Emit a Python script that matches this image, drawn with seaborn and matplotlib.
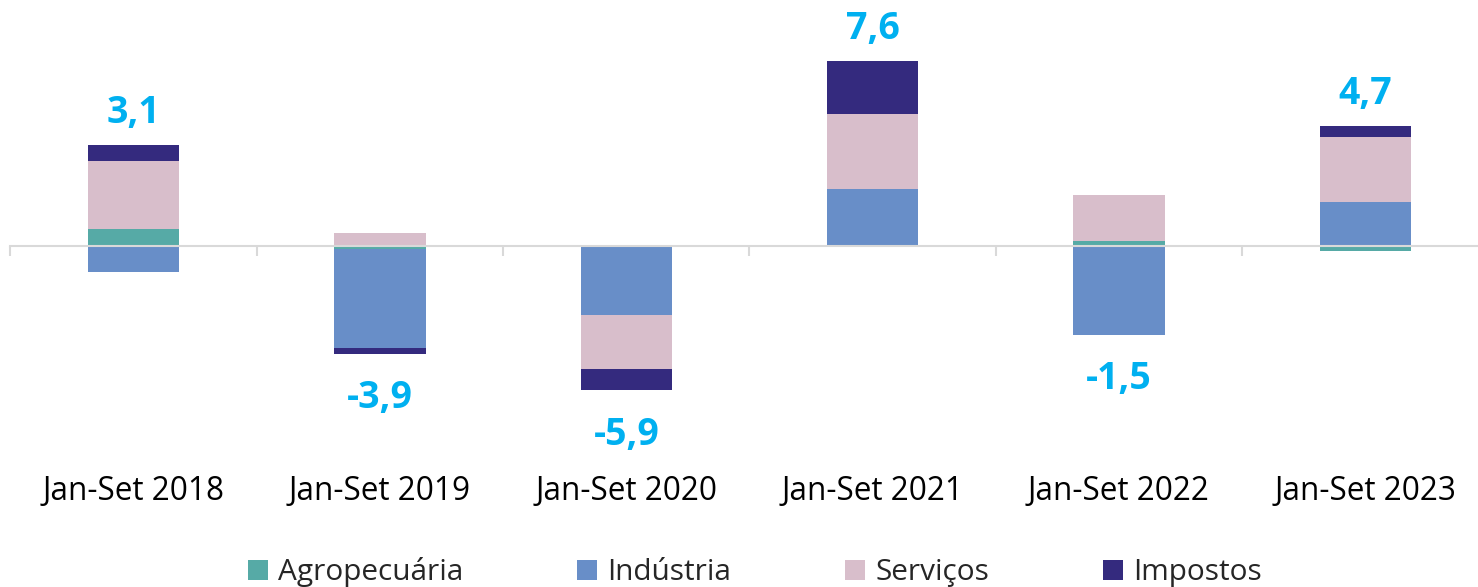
import matplotlib.pyplot as plt
import matplotlib.ticker as mticker
from matplotlib.patches import Patch
import seaborn as sns
import pandas as pd
import numpy as np


# data (contribution to growth, p.p.)
#==============================================================================
periods = ['Jan-Set 2018', 'Jan-Set 2019', 'Jan-Set 2020',
           'Jan-Set 2021', 'Jan-Set 2022', 'Jan-Set 2023']
series_names = ['Agropecuária', 'Indústria', 'Serviços', 'Impostos']
agro = [0.68, -0.12, 0.03, 0.00, 0.19, -0.22]
industria = [-1.07, -4.09, -2.88, 2.33, -3.68, 1.80]
servicos = [2.81, 0.54, -2.20, 3.10, 1.89, 2.71]
impostos = [0.66, -0.25, -0.89, 2.19, 0.03, 0.45]
totals = [3.1, -3.9, -5.9, 7.6, -1.5, 4.7]

colors = ['#56AAA6', '#688EC8', '#D8BECB', '#342A7E']
label_color = '#00B0F0'

sns.set_style('white')
plt.rcParams['font.family'] = ['Open Sans', 'DejaVu Sans']

df = pd.DataFrame({'periodo': periods, 'Agropecuária': agro,
                   'Indústria': industria, 'Serviços': servicos,
                   'Impostos': impostos})

# positive and negative parts stack separately (Excel style)
vals = df[series_names]
pos_cum = vals.clip(lower=0).cumsum(axis=1)
neg_cum = vals.clip(upper=0).cumsum(axis=1)

fig = plt.figure(figsize=(14.78, 5.87), dpi=100)
ax = fig.add_axes([10.5 / 1478, 0, 1, 1])

# draw cumulative bars from the outermost series inwards so each layer
# covers the one below it
for k in reversed(range(len(series_names))):
    name = series_names[k]
    for cum in (pos_cum, neg_cum):
        sns.barplot(x=df['periodo'], y=cum[name], color=colors[k],
                    width=0.37, errorbar=None, linewidth=0,
                    saturation=1, ax=ax)

ax.set_xlim(-0.5, 5.5)
ax.set_ylim(-(587 - 245.7) / 24.2, 245.7 / 24.2)
ax.set_xlabel('')
ax.set_ylabel('')
ax.set_yticks([])

# zero line with category separators
for side in ['top', 'left', 'right']:
    ax.spines[side].set_visible(False)
ax.spines['bottom'].set_position(('data', 0))
ax.spines['bottom'].set_color('#D9D9D9')
ax.spines['bottom'].set_linewidth(1.5)
ax.xaxis.set_minor_locator(mticker.FixedLocator(np.arange(-0.5, 6, 1)))
ax.tick_params(axis='x', which='both', bottom=True)
ax.tick_params(axis='x', which='minor', length=7.2, width=1.5,
               color='#D9D9D9', direction='out')
ax.tick_params(axis='x', which='major', length=0, pad=165,
               labelsize=22.7, labelcolor='black')

# total labels
pos_top = pos_cum[series_names[-1]]
neg_bottom = neg_cum[series_names[-1]]
for i, tot in enumerate(totals):
    if tot >= 0:
        y, off = pos_top[i], 23
    else:
        y, off = neg_bottom[i], -32
    ax.annotate('{:.1f}'.format(tot).replace('.', ','), xy=(i, y),
                xytext=(0, off), textcoords='offset points',
                ha='center', va='center', fontsize=27,
                fontweight='bold', color=label_color)

handles = [Patch(facecolor=c, edgecolor='none', label=n)
           for c, n in zip(colors, series_names)]
fig.legend(handles=handles, loc='center', bbox_to_anchor=(0.5108, 0.025),
           ncol=4, frameon=False, fontsize=21.4, handlelength=0.67,
           handleheight=0.67, handletextpad=0.33, columnspacing=3.85)

plt.savefig('out.png', dpi=100)
plt.close()
